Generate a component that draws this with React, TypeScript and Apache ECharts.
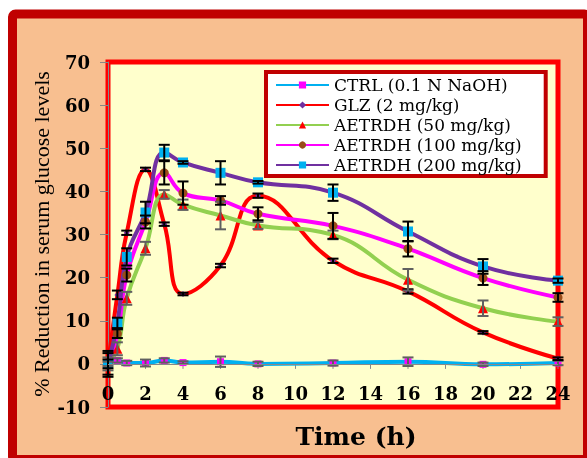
import React, { useEffect, useRef } from "react";
import * as echarts from "echarts";

const times = [0, 0.5, 1, 2, 3, 4, 6, 8, 12, 16, 20, 24];
const seriesNames = [
  "CTRL (0.1 N NaOH)",
  "GLZ (2 mg/kg)",
  "AETRDH (50 mg/kg)",
  "AETRDH (100 mg/kg)",
  "AETRDH (200 mg/kg)",
];
const ctrl = [0, 0.8, 0.2, 0.2, 0.8, 0.3, 0.5, 0, 0.2, 0.5, -0.1, 0.2];
const ctrlErr = [0.5, 0.5, 0.5, 0.8, 0.5, 0.3, 1.2, 0.5, 0.6, 1.0, 0.4, 0.5];
const glz = [0, 16.0, 30.4, 45.1, 32.4, 16.2, 22.8, 39.0, 23.9, 16.8, 7.3, 1.2];
const glzErr = [2.5, 1.0, 0.5, 0.4, 0.4, 0.3, 0.4, 0.5, 0.5, 0.5, 0.3, 0.3];
const a50 = [0, 3.5, 15.2, 26.8, 39.3, 36.9, 34.4, 32.1, 29.9, 19.5, 12.9, 9.8];
const a50Err = [1.5, 1.5, 1.5, 1.5, 1.0, 1.2, 3.2, 0.8, 1.0, 2.5, 1.8, 1.0];
const a100 = [0, 7.0, 20.6, 32.9, 44.3, 39.6, 37.9, 34.8, 32.0, 26.7, 19.9, 15.4];
const a100Err = [1, 1.0, 1.5, 1.5, 2.7, 2.7, 1.0, 1.5, 3.0, 1.8, 1.6, 1.0];
const a200 = [0, 9.5, 24.8, 35.1, 49.0, 46.7, 44.3, 42.1, 39.7, 30.7, 22.6, 19.3];
const a200Err = [3, 1.2, 2.0, 2.5, 1.8, 0.3, 2.7, 0.3, 1.9, 2.3, 1.7, 0.5];

// x-axis tick positions (drawn on the zero line, as in the original)
const xTicks = [0, 2, 4, 6, 8, 10, 12, 14, 16, 18, 20, 22, 24];

const yTitle = "% Reduction in serum glucose levels";
const xTitle = "Time (h)";

const lineColors = ["#00B0F0", "#FF0000", "#92D050", "#FF00FF", "#7030A0"];
const markColors = ["#FF00FF", "#7030A0", "#FF0000", "#994C1A", "#00B0F0"];
const symbols = ["rect", "diamond", "triangle", "circle", "rect"];
const symbolSizes = [7, 6, 10, 9, 10];
const barColors = ["#606060", "#000000", "#606060", "#000000", "#000000"];

export default function App() {
  const ref = useRef<HTMLDivElement>(null);
  useEffect(() => {
    if (!ref.current) return;
    const chart = echarts.init(ref.current, undefined, { renderer: "svg" });
    const vals = [ctrl, glz, a50, a100, a200];
    const errs = [ctrlErr, glzErr, a50Err, a100Err, a200Err];

    const lineSeries = vals.map((v, k) => ({
      type: "line",
      name: seriesNames[k],
      data: times.map((t, i) => [t, v[i]]),
      smooth: 0.45,
      symbol: symbols[k],
      symbolSize: symbolSizes[k],
      showAllSymbol: true,
      lineStyle: { color: lineColors[k], width: 4 },
      itemStyle: { color: markColors[k] },
      z: 2,
    }));

    const errSeries = vals.map((v, k) => ({
      type: "custom",
      name: "err" + k,
      z: 3,
      data: times.map((t, i) => [t, v[i] - errs[k][i], v[i] + errs[k][i]]),
      encode: { x: 0, y: [1, 2] },
      renderItem: (params: any, api: any) => {
        const x = api.value(0);
        const lo = api.coord([x, api.value(1)]);
        const hi = api.coord([x, api.value(2)]);
        const w = 5.5;
        const st = { stroke: barColors[k], lineWidth: 2 };
        return {
          type: "group",
          children: [
            { type: "line", shape: { x1: lo[0], y1: lo[1], x2: hi[0], y2: hi[1] }, style: st },
            { type: "line", shape: { x1: lo[0] - w, y1: lo[1], x2: lo[0] + w, y2: lo[1] }, style: st },
            { type: "line", shape: { x1: hi[0] - w, y1: hi[1], x2: hi[0] + w, y2: hi[1] }, style: st },
          ],
        };
      },
    }));

    const zeroAxis = {
      type: "custom",
      name: "zeroAxis",
      z: 1,
      silent: true,
      data: xTicks.map((t) => [t, 0]),
      encode: { x: 0, y: 1 },
      renderItem: (params: any, api: any) => {
        const p = api.coord([api.value(0), api.value(1)]);
        return {
          type: "line",
          shape: { x1: p[0], y1: p[1], x2: p[0], y2: p[1] + 5 },
          style: { stroke: "#888", lineWidth: 1 },
        };
      },
      markLine: {
        silent: true,
        symbol: "none",
        label: { show: false },
        lineStyle: { color: "#888", width: 1, type: "solid" },
        data: [{ yAxis: 0 }],
      },
    };

    const tickFont = {
      fontFamily: "DejaVu Serif",
      fontWeight: "bold",
      fontSize: 18,
      color: "#000",
    };

    chart.setOption({
      animation: false,
      backgroundColor: "transparent",
      graphic: [
        {
          type: "rect",
          z: -10,
          silent: true,
          shape: { x: 12.5, y: 14, width: 575, height: 445.5, r: 3 },
          style: { fill: "#F8BF90", stroke: "#C00000", lineWidth: 9 },
        },
        {
          type: "text",
          x: 41,
          y: 234,
          rotation: Math.PI / 2,
          style: {
            text: yTitle,
            fontFamily: "Liberation Serif",
            fontSize: 22,
            fill: "#000",
            align: "center",
            verticalAlign: "middle",
          },
        },
        {
          type: "text",
          x: 356,
          y: 436,
          style: {
            text: xTitle,
            fontFamily: "DejaVu Serif",
            fontWeight: "bold",
            fontSize: 25,
            fill: "#000",
            align: "center",
            verticalAlign: "middle",
          },
        },
      ],
      grid: {
        left: 108,
        top: 62,
        width: 450,
        height: 345,
        show: true,
        backgroundColor: "#FFFFCC",
        borderColor: "#FF0000",
        borderWidth: 5,
      },
      legend: {
        data: seriesNames,
        orient: "vertical",
        left: 266,
        top: 72,
        padding: [4, 24, 2, 9],
        itemWidth: 53,
        itemHeight: 9,
        itemGap: 2,
        backgroundColor: "#FFFFFF",
        borderColor: "#C00000",
        borderWidth: 4,
        lineStyle: { width: 2 },
        textStyle: {
          fontFamily: "DejaVu Serif",
          fontSize: 17,
          lineHeight: 18,
          color: "#000",
        },
      },
      xAxis: {
        type: "value",
        min: 0,
        max: 24,
        interval: 2,
        axisLine: { show: false, onZero: false },
        axisTick: { show: false },
        axisLabel: { ...tickFont, inside: true, margin: 5 },
        splitLine: { show: false },
      },
      yAxis: {
        type: "value",
        min: -10,
        max: 70,
        interval: 10,
        axisLine: { show: true, onZero: false, lineStyle: { color: "#888", width: 1 } },
        axisTick: { show: true, inside: false, length: 8, lineStyle: { color: "#888" } },
        axisLabel: { ...tickFont, margin: 18 },
        splitLine: { show: false },
      },
      series: [zeroAxis, ...lineSeries, ...errSeries],
    });
    return () => chart.dispose();
  }, []);
  return (
    <div
      ref={ref}
      style={{ position: "fixed", left: 0, top: 0, width: 587, height: 458 }}
    />
  );
}
